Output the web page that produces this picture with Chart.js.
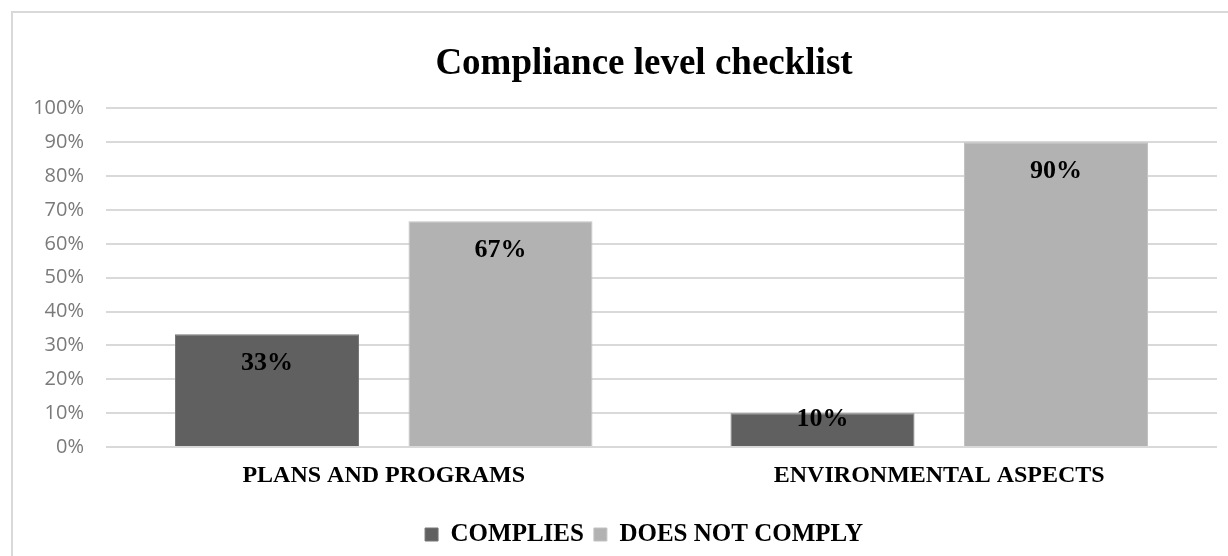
<!DOCTYPE html>
<html>
<head>
<meta charset="utf-8">
<script src="https://cdn.jsdelivr.net/npm/chart.js@4"></script>
<style>
  html, body { margin: 0; padding: 0; background: #fff; overflow: hidden; }
  #frame { position: absolute; left: 11px; top: 11px; width: 1262px; height: 562px; border: 2px solid #d9d9d9; }
  canvas { display: block; }
</style>
</head>
<body>
<div id="frame"><canvas id="myChart" width="1262" height="562"></canvas></div>
<script>
const categories = ["PLANS AND PROGRAMS", "ENVIRONMENTAL ASPECTS"];
const complies = [0.333, 0.10];
const doesNotComply = [0.667, 0.90];
const tickLabels = ["0%", "10%", "20%", "30%", "40%", "50%", "60%", "70%", "80%", "90%", "100%"];

// percentage labels inside the top of each bar
const barLabels = {
  id: "barLabels",
  afterDatasetsDraw(chart) {
    const ctx = chart.ctx;
    ctx.save();
    ctx.font = 'bold 26px "Liberation Serif"';
    ctx.fillStyle = "#000";
    ctx.textAlign = "center";
    ctx.textBaseline = "middle";
    chart.data.datasets.forEach((ds, i) => {
      chart.getDatasetMeta(i).data.forEach((bar, j) => {
        const y = Math.min(bar.y + 29, bar.base - 27);
        ctx.fillText(Math.round(ds.data[j] * 100) + "%", bar.x, y);
      });
    });
    ctx.restore();
  },
};

const data = {
  labels: categories,
  datasets: [
    {
      label: "COMPLIES",
      data: complies,
      backgroundColor: "#606060",
      borderColor: "#777777",
      borderWidth: 1,
    },
    {
      label: "DOES NOT COMPLY",
      data: doesNotComply,
      backgroundColor: "#b2b2b2",
      borderColor: "#c2c2c2",
      borderWidth: 1,
    },
  ],
};

const config = {
  type: "bar",
  data: data,
  plugins: [barLabels],
  options: {
    responsive: false,
    animation: false,
    devicePixelRatio: 1,
    categoryPercentage: 0.8407,
    barPercentage: 0.788,
    layout: { padding: { left: 0, right: 0, top: 0, bottom: 18 } },
    plugins: {
      title: {
        display: true,
        text: "Compliance level checklist",
        color: "#000",
        font: { family: "Liberation Serif", size: 37, weight: "bold" },
        padding: { top: 29, bottom: 22 },
      },
      legend: {
        position: "bottom",
        labels: {
          color: "#000",
          font: { family: "Liberation Serif", size: 25, weight: "bold" },
          boxWidth: 13,
          boxHeight: 13,
          padding: 10,
        },
      },
      tooltip: { enabled: false },
    },
    scales: {
      x: {
        grid: { display: false, drawTicks: false },
        border: { display: false },
        ticks: {
          color: "#000",
          font: { family: "Liberation Serif", size: 24, weight: "bold" },
          padding: 14,
        },
        afterFit: (scale) => { scale.height = 65; },
      },
      y: {
        min: 0,
        max: 1,
        grid: { color: "#d9d9d9", lineWidth: 2, drawTicks: false },
        border: { display: false },
        ticks: {
          stepSize: 0.1,
          color: "#7a7a7a",
          font: { family: "Open Sans", size: 20 },
          padding: 22,
          callback: (value, index) => tickLabels[index],
        },
        afterFit: (scale) => { scale.width = 93; },
      },
      // empty right axis, only keeps the space on the right of the plot
      yRight: {
        position: "right",
        min: 0,
        max: 1,
        grid: { display: false, drawTicks: false },
        border: { display: false },
        ticks: { display: false },
        afterFit: (scale) => { scale.width = 58; },
      },
    },
  },
};

const myChart = new Chart(document.getElementById("myChart"), config);
</script>
</body>
</html>
